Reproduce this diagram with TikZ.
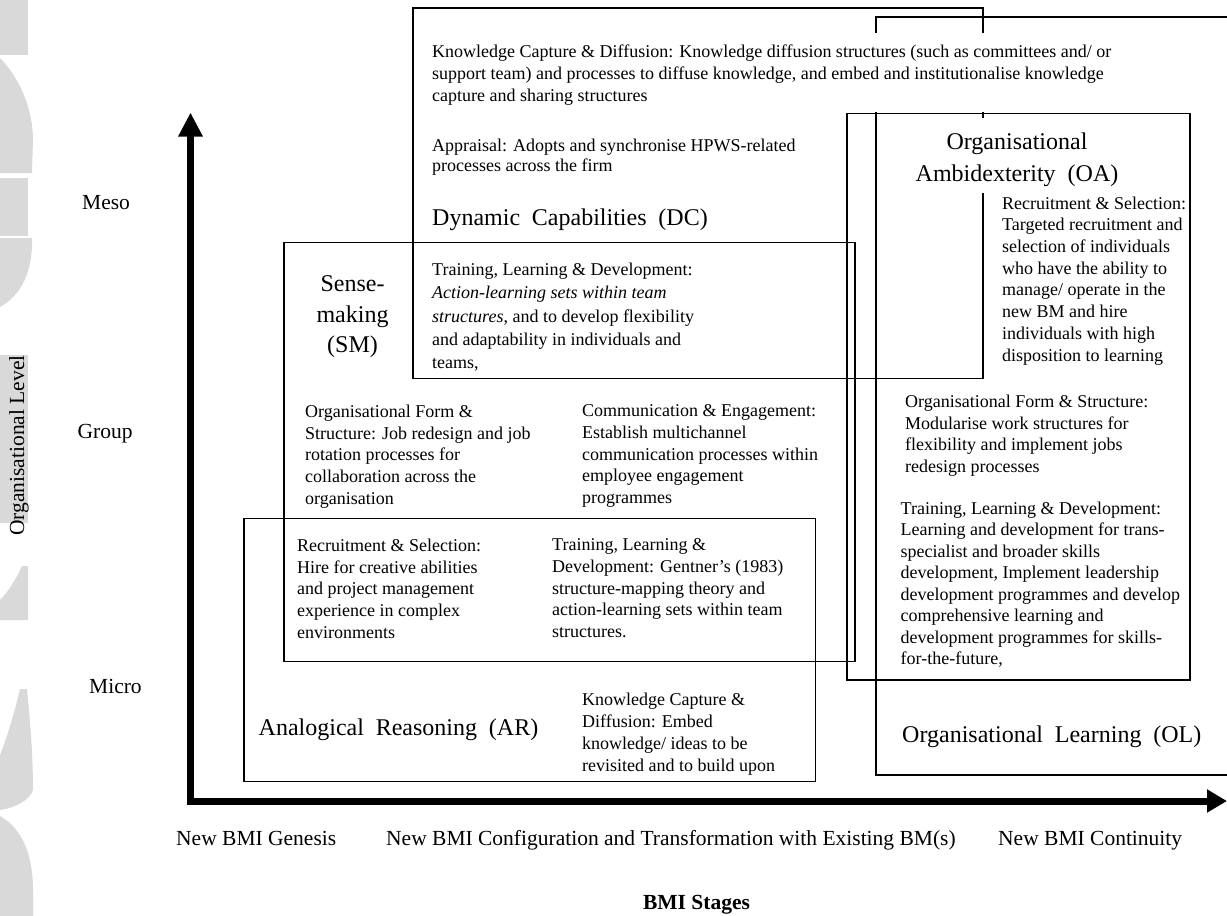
\documentclass[tikz,border=0pt]{standalone}
\usepackage{fontspec}
\setmainfont{Liberation Serif}
\usetikzlibrary{arrows.meta}
\newcommand\bodyfs{\fontsize{18}{21.7}\selectfont}
\newcommand\axisfs{\fontsize{21.5}{26}\selectfont}
\newcommand\titlefs{\fontsize{24}{30}\selectfont\spaceskip=11.8pt plus 2pt minus 1pt\relax}
\newcommand\oatitlefs{\fontsize{24}{32}\selectfont\spaceskip=12pt plus 2pt minus 1pt\relax}
\newcommand\smtitlefs{\fontsize{24}{30.5}\selectfont}
\begin{document}
\begin{tikzpicture}[x=1pt,y=-1pt,
  box/.style={draw=black,line width=1.3pt},
  wm/.style={fill=black!15},
  mask/.style={fill=white},
  txt/.style={anchor=north west,inner sep=0pt,align=left,font=\bodyfs,execute at begin node={\strut}},
  title/.style={anchor=base west,inner sep=0pt,font=\titlefs},
  axlabel/.style={anchor=base west,inner sep=0pt,font=\axisfs},
  axis/.style={line width=7pt}]
\useasboundingbox (0,0) rectangle (1227,916);
\clip (0,0) rectangle (1227,916);
% watermark
\fill[wm] (0,0) rectangle (28,55);
\fill[wm] (0,58) .. controls (20,78) and (33,110) .. (33,140) -- (32,173) -- (0,173) -- cycle;
\fill[wm] (0,178) rectangle (28,236);
\fill[wm] (0,238) -- (32,238) .. controls (33,270) and (22,295) .. (0,307) -- cycle;
\fill[wm] (0,355) rectangle (28,523);
\fill[wm] (28,566) -- (28,620) -- (0,620) -- (0,600) .. controls (10,590) and (18,575) .. (22,566) -- cycle;
\fill[wm] (20,689) -- (27,689) .. controls (31,730) and (33,760) .. (33,790) .. controls (30,800) and (15,808) .. (0,810) -- (0,755) .. controls (8,735) and (15,710) .. (20,689) -- cycle;
\fill[wm] (0,816) .. controls (25,830) and (33,860) .. (33,890) -- (33,916) -- (0,916) -- cycle;
% boxes
\draw[box] (413,8) rectangle (983,378.3);
\draw[box] (1240,17) -- (876,17) -- (876,775) -- (1240,775);
\fill[mask] (420,33) rectangle (1115,112.3);
\draw[box] (847,113.3) rectangle (1190,680);
\fill[mask] (905,118) rectangle (1128,193);
\draw[box] (284,242.5) rectangle (855,661.7);
\draw[box] (244,518.3) rectangle (815.5,781.7);
% axes
\coordinate (vbot) at (190.5,804.5);
\coordinate (vtop) at (190.5,112.5);
\coordinate (hleft) at (187,801);
\coordinate (hright) at (1227,801);
\draw[axis,-{Triangle[length=24pt,width=23pt]}] (vbot) -- (vtop);
\draw[axis,-{Triangle[length=20pt,width=22pt]}] (hleft) -- (hright);
% texts
\node[txt] (kcd) at (432,45) {Knowledge Capture \& Diffusion: Knowledge diffusion structures (such as committees and/ or\\support team) and processes to diffuse knowledge, and embed and institutionalise knowledge\\capture and sharing structures};
\node[txt,font=\fontsize{18}{20.5}\selectfont] (appr) at (432,138.5) {Appraisal: Adopts and synchronise HPWS-related\\processes across the firm};
\node[title] (dc) at (432,225.5) {Dynamic Capabilities (DC)};
\node[txt,font=\fontsize{18}{23.3}\selectfont] (tldsm) at (432,263) {Training, Learning \& Development:\\\textit{Action-learning sets within team}\\\textit{structures}, and to develop flexibility\\and adaptability in individuals and\\teams,};
\node[anchor=north,inner sep=0pt,align=center,font=\smtitlefs,execute at begin node={\strut}] (sm) at (352.5,275.5) {Sense-\\making\\(SM)};
\node[txt] (ofsl) at (305,404.7) {Organisational Form \&\\Structure: Job redesign and job\\rotation processes for\\collaboration across the\\organisation};
\node[txt] (ce) at (582,404.7) {Communication \& Engagement:\\Establish multichannel\\communication processes within\\employee engagement\\programmes};
\node[txt] (rsl) at (297,538.7) {Recruitment \& Selection:\\Hire for creative abilities\\and project management\\experience in complex\\environments};
\node[txt] (tldg) at (552,538.7) {Training, Learning \&\\Development: Gentner's (1983)\\structure-mapping theory and\\action-learning sets within team\\structures.};
\node[title] (ar) at (258.5,735) {Analogical Reasoning (AR)};
\node[txt,font=\fontsize{18}{22.3}\selectfont] (kcds) at (582,692.4) {Knowledge Capture \&\\Diffusion: Embed\\knowledge/ ideas to be\\revisited and to build upon};
\node[anchor=north,inner sep=0pt,align=center,font=\oatitlefs,execute at begin node={\strut}] (oa) at (1017,132.6) {Organisational\\Ambidexterity (OA)};
\node[txt] (rsr) at (1002,196.5) {Recruitment \& Selection:\\Targeted recruitment and\\selection of individuals\\who have the ability to\\manage/ operate in the\\new BM and hire\\individuals with high\\disposition to learning};
\node[txt] (ofsr) at (905,394.8) {Organisational Form \& Structure:\\Modularise work structures for\\flexibility and implement jobs\\redesign processes};
\node[txt,font=\fontsize{18}{21.5}\selectfont] (tldr) at (900.5,501.4) {Training, Learning \& Development:\\Learning and development for trans-\\specialist and broader skills\\development, Implement leadership\\development programmes and develop\\comprehensive learning and\\development programmes for skills-\\for-the-future,};
\node[title] (ol) at (902,742) {Organisational Learning (OL)};
% axis labels
\node[axlabel] (meso) at (82,209) {Meso};
\node[axlabel] (group) at (77.5,438) {Group};
\node[axlabel] (micro) at (89,693) {Micro};
\node[anchor=base,inner sep=0pt,font=\axisfs,rotate=90] (orglevel) at (24,445.5) {Organisational Level};
\node[axlabel] (gen) at (176,845) {New BMI Genesis};
\node[axlabel] (conf) at (386,845) {New BMI Configuration and Transformation with Existing BM(s)};
\node[axlabel] (cont) at (998,845) {New BMI Continuity};
\node[anchor=base,inner sep=0pt,font=\axisfs\bfseries] (stages) at (696.5,909) {BMI Stages};
\end{tikzpicture}
\end{document}
